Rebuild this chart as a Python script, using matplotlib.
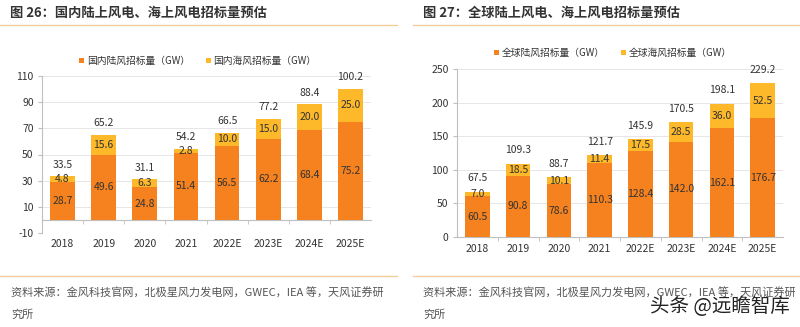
"""
风电招标量预估 双图重绘
"""

import matplotlib
matplotlib.use('Agg')
import matplotlib.pyplot as plt
from matplotlib.patches import Patch
from matplotlib.lines import Line2D
import numpy as np

plt.rcParams['font.family'] = ['Noto Sans CJK SC', 'DejaVu Sans']
plt.rcParams['axes.unicode_minus'] = False

# 数据
years = ['2018', '2019', '2020', '2021', '2022E', '2023E', '2024E', '2025E']

cn_onshore = [28.7, 49.6, 24.8, 51.4, 56.5, 62.2, 68.4, 75.2]
cn_offshore = [4.8, 15.6, 6.3, 2.8, 10.0, 15.0, 20.0, 25.0]
cn_total = [33.5, 65.2, 31.1, 54.2, 66.5, 77.2, 88.4, 100.2]

gl_onshore = [60.5, 90.8, 78.6, 110.3, 128.4, 142.0, 162.1, 176.7]
gl_offshore = [7.0, 18.5, 10.1, 11.4, 17.5, 28.5, 36.0, 52.5]
gl_total = [67.5, 109.3, 88.7, 121.7, 145.9, 170.5, 198.1, 229.2]

cn_ticks = [-10, 10, 30, 50, 70, 90, 110]
gl_ticks = [0, 50, 100, 150, 200, 250]

ORANGE = '#F5821F'
YELLOW = '#FDB92A'
TEXT = '#333333'
GRAY = '#BFBFBF'
LINE = '#F2CC99'

W, H = 800, 327


def px_box(x0, y_top, x1, y_bot):
    """像素坐标 -> figure 比例"""
    return [x0 / W, 1 - y_bot / H, (x1 - x0) / W, (y_bot - y_top) / H]


def draw_panel(ax, onshore, offshore, total, ticks, ylim, step):
    x = np.arange(len(years))
    ax.bar(x, onshore, 0.6, color=ORANGE, zorder=3)
    ax.bar(x, offshore, 0.6, bottom=onshore, color=YELLOW, zorder=3)

    for i in range(len(years)):
        ax.text(x[i], onshore[i] / 2, f'{onshore[i]:.1f}', ha='center', va='center',
                fontsize=7.5, color=TEXT, zorder=4)
        ax.text(x[i], onshore[i] + offshore[i] / 2, f'{offshore[i]:.1f}', ha='center',
                va='center', fontsize=7.5, color=TEXT, zorder=4)
        ax.text(x[i], total[i] + step * 0.25, f'{total[i]:.1f}', ha='center',
                va='bottom', fontsize=7.5, color=TEXT, zorder=4)

    ax.set_xlim(-0.5, len(years) - 0.5)
    ax.set_ylim(*ylim)
    ax.set_yticks(ticks)
    ax.yaxis.grid(True, color='#E6E6E6', linewidth=0.7, zorder=0)
    ax.set_axisbelow(True)

    for s in ['top', 'right']:
        ax.spines[s].set_visible(False)
    ax.spines['left'].set_color(GRAY)
    ax.spines['bottom'].set_color(GRAY)
    ax.spines['bottom'].set_position(('data', 0))

    ax.set_xticks(x)
    ax.set_xticklabels(years)
    ax.set_xticks(x[:-1] + 0.5, minor=True)
    ax.tick_params(axis='x', which='major', length=0, labelsize=7.5, labelcolor=TEXT)
    ax.tick_params(axis='x', which='minor', length=3, color=GRAY)
    ax.tick_params(axis='y', length=3, color=GRAY, labelsize=7.5, labelcolor=TEXT, pad=3)


fig = plt.figure(figsize=(8, 3.27), dpi=100)

# 左图：国内
ax1 = fig.add_axes(px_box(42, 76, 371, 233))
draw_panel(ax1, cn_onshore, cn_offshore, cn_total, cn_ticks, (-10, 110), 20)
ax1.tick_params(axis='x', which='major', pad=14)

# 右图：全球
ax2 = fig.add_axes(px_box(457, 69, 783, 237))
draw_panel(ax2, gl_onshore, gl_offshore, gl_total, gl_ticks, (0, 250), 50)
ax2.tick_params(axis='x', which='major', pad=5)

# 图例
def add_legend(labels, cx, cy):
    handles = [Patch(facecolor=ORANGE), Patch(facecolor=YELLOW)]
    fig.legend(handles, labels, loc='center', bbox_to_anchor=(cx / W, 1 - cy / H),
               ncol=2, frameon=False, fontsize=7, handlelength=0.5, handleheight=0.5,
               handletextpad=0.3, columnspacing=1.6, labelcolor=TEXT)

add_legend(['国内陆风招标量（GW）', '国内海风招标量（GW）'], 198, 61)
add_legend(['全球陆风招标量（GW）', '全球海风招标量（GW）'], 613, 53)

# 标题
fig.text(10 / W, 1 - 13 / H, '图 26：国内陆上风电、海上风电招标量预估', fontsize=9.5,
         fontweight='bold', color=TEXT, va='center', ha='left')
fig.text(423 / W, 1 - 13 / H, '图 27：全球陆上风电、海上风电招标量预估', fontsize=9.5,
         fontweight='bold', color=TEXT, va='center', ha='left')

# 分隔线
for (x0, x1) in [(0, 397), (413, 800)]:
    for y in [25, 276]:
        fig.add_artist(Line2D([x0 / W, x1 / W], [1 - y / H, 1 - y / H], color=LINE,
                              linewidth=1.0, transform=fig.transFigure))

# 资料来源
src = '资料来源：金风科技官网，北极星风力发电网，GWEC，IEA 等，天风证券研'
for x0 in [11, 423]:
    fig.text(x0 / W, 1 - 292 / H, src, fontsize=8, color='#555555', va='center', ha='left')
    fig.text(x0 / W, 1 - 315 / H, '究所', fontsize=8, color='#555555', va='center', ha='left')

# 水印
fig.text(790 / W, 1 - 306 / H, '头条 @远瞻智库', fontsize=14, color='#222222',
         va='center', ha='right')

fig.savefig('out.png', dpi=100)
